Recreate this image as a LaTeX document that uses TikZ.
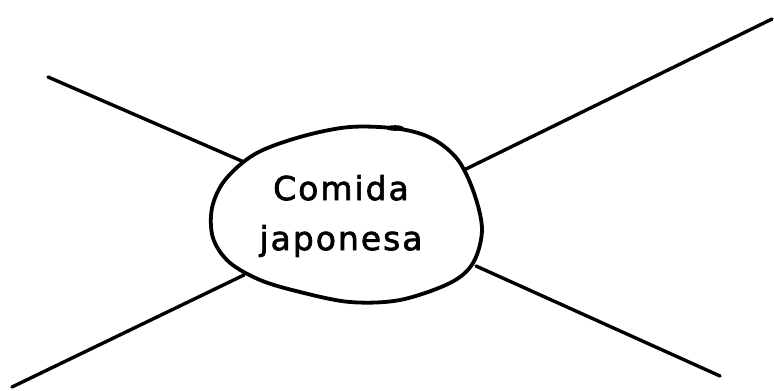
\documentclass[tikz,border=0pt]{standalone}
\usepackage{fontspec}
\setmainfont{DejaVu Sans}[FakeBold=2,LetterSpace=6]
\begin{document}
\begin{tikzpicture}[x=1pt,y=-1pt,
  ink/.style={draw=black,line width=3.8pt,line cap=round,line join=round},
  spoke/.style={draw=black,line width=3.4pt,line cap=round},
  label/.style={font=\fontsize{33}{50}\selectfont,align=center,inner sep=0pt}]
\useasboundingbox (0,0) rectangle (774,391);
% hand-drawn oval
\draw[ink] plot[smooth cycle,tension=0.55] coordinates {
  (300,137) (350,127) (400,129) (433,139) (458,160) (474,193) (482,230)
  (473,263) (450,283) (400,300) (350,302) (300,292) (260,280) (229,262)
  (213,238) (212,208) (225,180) (255,154)};
\fill (395,128) ellipse (9pt and 2.8pt);
\node[label] (c) at (341,216) {Comida\\japonesa};
% attachment points on the oval
\coordinate (tl) at (244,162);
\coordinate (tr) at (466,169);
\coordinate (bl) at (244,275);
\coordinate (br) at (476,266);
% free ends
\coordinate (etl) at (48,77);
\coordinate (etr) at (772,19);
\coordinate (ebl) at (12,387);
\coordinate (ebr) at (720,376);
\draw[spoke] (tl) -- (etl);
\draw[spoke] (tr) -- (etr);
\draw[spoke] (bl) -- (ebl);
\draw[spoke] (br) -- (ebr);
\end{tikzpicture}
\end{document}
